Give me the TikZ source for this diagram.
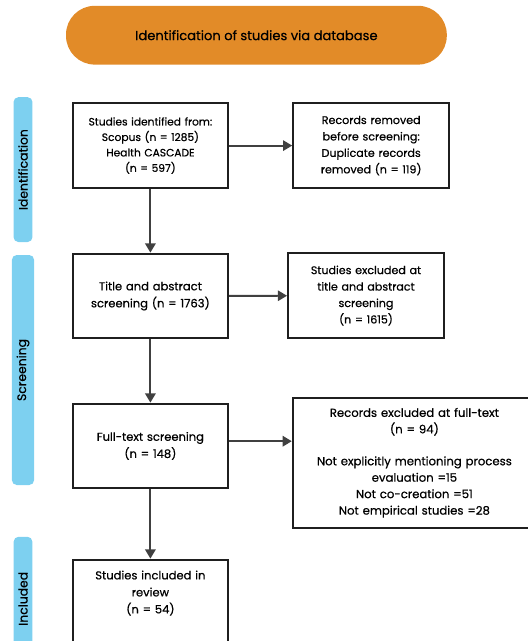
\documentclass[tikz,border=0pt]{standalone}
\usepackage{fontspec}
\setmainfont{Poppins}[FakeBold=0.5]
\usetikzlibrary{arrows.meta, positioning}

\definecolor{bannerorange}{RGB}{226,139,40}
\definecolor{stageblue}{RGB}{125,208,240}
\definecolor{arrowgray}{RGB}{64,64,64}

\begin{document}
\begin{tikzpicture}[
    every node/.style={font=\fontsize{8.2}{12.1}\selectfont},
    flowbox/.style={draw=black!88, rectangle, line width=1.4pt, fill=white, align=center, inner xsep=2pt, minimum width=3.89cm, minimum height=2.12cm, text width=3.7cm},
    sidebox/.style={draw=black!88, rectangle, line width=1.4pt, fill=white, align=center, inner xsep=2pt, minimum width=3.9cm, minimum height=2.12cm, text width=3.7cm, font=\fontsize{7.9}{11.7}\selectfont},
    banner/.style={rectangle, rounded corners=0.72cm, fill=bannerorange, minimum width=9.52cm, minimum height=1.47cm, font=\fontsize{9.3}{11}\selectfont},
    stagebar/.style={rectangle, rounded corners=0.12cm, fill=stageblue, minimum width=0.55cm, rotate=90, font=\fontsize{8.8}{11}\selectfont},
    arrow/.style={-{Triangle[length=0.23cm, width=0.26cm]}, arrowgray, line width=1.4pt}
]
    \useasboundingbox (0, 0) rectangle (13.2, -16.025);
    \clip (0, 0) rectangle (13.2, -16.025);

    % Header
    \node[banner] (header) at (6.41, -0.88) {Identification of studies via database\hspace{0.4cm}};

    % Stage bars on the left
    \node[stagebar, minimum width=3.62cm] (ident_bar) at (0.575, -4.24) {Identification};
    \node[stagebar, minimum width=5.75cm] (screen_bar) at (0.575, -9.25) {Screening};
    \node[stagebar, minimum width=3.1cm] (incl_bar) at (0.575, -14.97) {Included};

    % Main column
    \node (identified) [flowbox, font=\fontsize{7.6}{11}\selectfont] at (3.76, -3.64) {Studies identified from:\\Scopus (n = 1285)\\Health CASCADE\\(n = 597)};
    \node (ta_screen) [flowbox] at (3.76, -7.4) {Title and abstract\\screening (n = 1763)};
    \node (ft_screen) [flowbox] at (3.76, -11.15) {Full-text screening\\(n = 148)};
    \node (included) [flowbox, text depth=1.35cm] at (3.76, -15.05) {Studies included in\\review\\(n = 54)};

    % Side column
    \node (removed) [sidebox] at (9.28, -3.64) {Records removed\\before screening:\\Duplicate records\\removed (n = 119)};
    \node (ta_excl) [sidebox] at (9.15, -7.39) {Studies excluded at\\title and abstract\\screening\\(n = 1615)};
    \node (ft_excl) [sidebox, minimum width=6.08cm, minimum height=3.25cm, text width=5.9cm, font=\fontsize{8.3}{11.7}\selectfont] at (10.36, -11.57) {Records excluded at full-text\\(n = 94)\\[11pt]Not explicitly mentioning process\\evaluation =15\\Not co-creation =51\\Not empirical studies =28};

    % Arrows down the main column
    \draw [arrow] (identified) -- (ta_screen);
    \draw [arrow] (ta_screen) -- (ft_screen);
    \draw [arrow] (ft_screen) -- (included);

    % Arrows to the side column
    \draw [arrow] (identified) -- (removed);
    \draw [arrow] (ta_screen) -- (ta_excl);
    \draw [arrow] ([yshift=0.12cm]ft_screen.east) -- ([yshift=0.12cm]ft_screen.east -| ft_excl.west);

\end{tikzpicture}
\end{document}
